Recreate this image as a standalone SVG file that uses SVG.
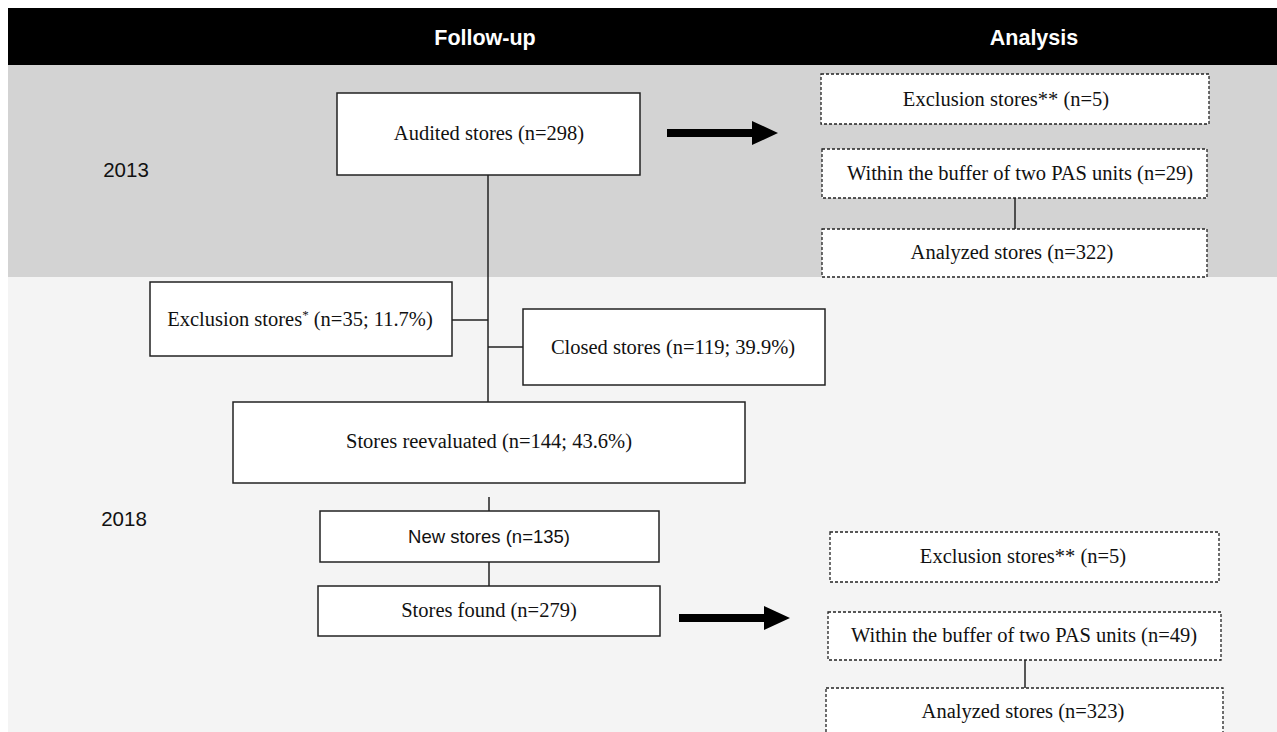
<svg xmlns="http://www.w3.org/2000/svg" width="1277" height="732" viewBox="0 0 1277 732">
  <style>
    .box { fill: #ffffff; stroke: #222222; stroke-width: 1.5; }
    .dbox { fill: #ffffff; stroke: #222222; stroke-width: 1.3; stroke-dasharray: 3 2; }
    .serif { font-family: "Liberation Serif", "Times New Roman", serif; font-size: 20.5px; fill: #111111; text-anchor: middle; }
    .sans { font-family: "Liberation Sans", Arial, sans-serif; font-size: 18.5px; fill: #111111; text-anchor: middle; }
    .year { font-family: "Liberation Sans", Arial, sans-serif; font-size: 20.5px; fill: #111111; text-anchor: middle; }
    .head { font-family: "Liberation Sans", Arial, sans-serif; font-size: 21.5px; font-weight: bold; fill: #ffffff; text-anchor: middle; }
    .conn { stroke: #222222; stroke-width: 1.5; fill: none; }
    .arrow { fill: #000000; }
  </style>
  <rect x="0" y="0" width="1277" height="732" fill="#ffffff"/>
  <g id="bands">
    <rect x="8" y="8" width="1269" height="57" fill="#000000"/>
    <rect x="8" y="65" width="1269" height="212" fill="#d3d3d3"/>
    <rect x="8" y="277" width="1269" height="455" fill="#f4f4f4"/>
    <text class="head" x="485" y="45">Follow-up</text>
    <text class="head" x="1034" y="45">Analysis</text>
    <text class="year" x="126" y="177">2013</text>
    <text class="year" x="124" y="526">2018</text>
  </g>
  <g id="connectors">
    <line class="conn" x1="488" y1="175" x2="488" y2="402"/>
    <line class="conn" x1="452" y1="320" x2="488" y2="320"/>
    <line class="conn" x1="488" y1="347" x2="523" y2="347"/>
    <line class="conn" x1="489" y1="497" x2="489" y2="511"/>
    <line class="conn" x1="489" y1="562" x2="489" y2="586"/>
    <line class="conn" x1="1015" y1="198" x2="1015" y2="229"/>
    <line class="conn" x1="1025" y1="660" x2="1025" y2="688"/>
    <polygon class="arrow" points="667,129 752,129 752,121 778,133 752,145 752,137 667,137"/>
    <polygon class="arrow" points="679,614 764,614 764,606 790,618 764,630 764,622 679,622"/>
  </g>
  <g id="audited">
    <rect class="box" x="337" y="93" width="303" height="82"/>
    <text class="serif" x="489" y="140">Audited stores (n=298)</text>
  </g>
  <g id="excl2013">
    <rect class="dbox" x="821" y="74" width="388" height="50"/>
    <text class="serif" x="1006" y="106">Exclusion stores** (n=5)</text>
  </g>
  <g id="buffer2013">
    <rect class="dbox" x="822" y="149" width="385" height="49"/>
    <text class="serif" x="1020" y="180">Within the buffer of two PAS units (n=29)</text>
  </g>
  <g id="analyzed2013">
    <rect class="dbox" x="822" y="229" width="385" height="48"/>
    <text class="serif" x="1012" y="259">Analyzed stores (n=322)</text>
  </g>
  <g id="exclusion">
    <rect class="box" x="150" y="282" width="302" height="74"/>
    <text class="serif" x="300" y="326">Exclusion stores<tspan font-size="13" dy="-7">*</tspan><tspan dy="7"> (n=35; 11.7%)</tspan></text>
  </g>
  <g id="closed">
    <rect class="box" x="523" y="309" width="302" height="76"/>
    <text class="serif" x="673" y="354">Closed stores (n=119; 39.9%)</text>
  </g>
  <g id="reevaluated">
    <rect class="box" x="233" y="402" width="512" height="81"/>
    <text class="serif" x="489" y="448">Stores reevaluated (n=144; 43.6%)</text>
  </g>
  <g id="newstores">
    <rect class="box" x="320" y="511" width="339" height="51"/>
    <text class="sans" x="489" y="543">New stores (n=135)</text>
  </g>
  <g id="found">
    <rect class="box" x="318" y="586" width="342" height="50"/>
    <text class="serif" x="489" y="617">Stores found (n=279)</text>
  </g>
  <g id="excl2018">
    <rect class="dbox" x="830" y="532" width="389" height="50"/>
    <text class="serif" x="1023" y="563">Exclusion stores** (n=5)</text>
  </g>
  <g id="buffer2018">
    <rect class="dbox" x="828" y="612" width="393" height="48"/>
    <text class="serif" x="1024" y="642">Within the buffer of two PAS units (n=49)</text>
  </g>
  <g id="analyzed2018">
    <rect class="dbox" x="826" y="688" width="397" height="60"/>
    <text class="serif" x="1023" y="718">Analyzed stores (n=323)</text>
  </g>
</svg>
